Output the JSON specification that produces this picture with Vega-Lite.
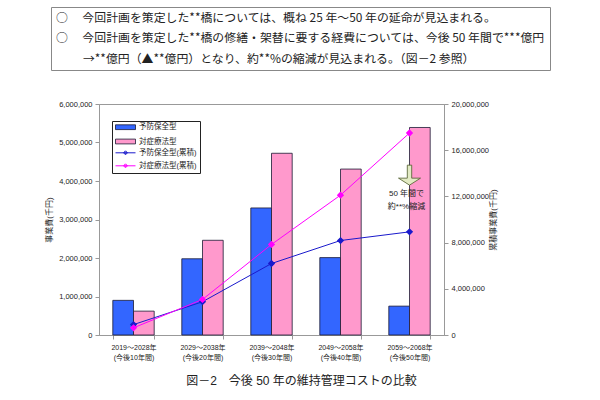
{
  "$schema": "https://vega.github.io/schema/vega-lite/v6.json",
  "autosize": {"type": "none"},
  "padding": {"left": 99, "top": 104, "right": 156, "bottom": 65},
  "width": 345,
  "height": 231,
  "background": "white",
  "config": {
    "font": "Liberation Sans, Noto Sans CJK JP",
    "view": {"stroke": "#999", "strokeWidth": 1}
  },
  "datasets": {
    "notes": [
      {"note": "○　 今回計画を策定した**橋については、概ね 25 年～50 年の延命が見込まれる。"},
      {"note": "○　 今回計画を策定した**橋の修繕・架替に要する経費については、今後 50 年間で***億円"},
      {"note": "⠀⠀⠀→**億円（▲**億円）となり、約**%の縮減が見込まれる。（図－2 参照）"}
    ],
    "bars": [
      {"period": "2019～2028年|(今後10年間)", "series": "予防保全型", "cost": 900000},
      {"period": "2019～2028年|(今後10年間)", "series": "対症療法型", "cost": 620000},
      {"period": "2029～2038年|(今後20年間)", "series": "予防保全型", "cost": 1980000},
      {"period": "2029～2038年|(今後20年間)", "series": "対症療法型", "cost": 2460000},
      {"period": "2039～2048年|(今後30年間)", "series": "予防保全型", "cost": 3300000},
      {"period": "2039～2048年|(今後30年間)", "series": "対症療法型", "cost": 4720000},
      {"period": "2049～2058年|(今後40年間)", "series": "予防保全型", "cost": 2010000},
      {"period": "2049～2058年|(今後40年間)", "series": "対症療法型", "cost": 4310000},
      {"period": "2059～2068年|(今後50年間)", "series": "予防保全型", "cost": 750000},
      {"period": "2059～2068年|(今後50年間)", "series": "対症療法型", "cost": 5390000}
    ],
    "lines": [
      {"period": "2019～2028年|(今後10年間)", "series": "予防保全型(累積)", "cum": 900000},
      {"period": "2029～2038年|(今後20年間)", "series": "予防保全型(累積)", "cum": 2880000},
      {"period": "2039～2048年|(今後30年間)", "series": "予防保全型(累積)", "cum": 6190000},
      {"period": "2049～2058年|(今後40年間)", "series": "予防保全型(累積)", "cum": 8180000},
      {"period": "2059～2068年|(今後50年間)", "series": "予防保全型(累積)", "cum": 8930000},
      {"period": "2019～2028年|(今後10年間)", "series": "対症療法型(累積)", "cum": 620000},
      {"period": "2029～2038年|(今後20年間)", "series": "対症療法型(累積)", "cum": 3080000},
      {"period": "2039～2048年|(今後30年間)", "series": "対症療法型(累積)", "cum": 7840000},
      {"period": "2049～2058年|(今後40年間)", "series": "対症療法型(累積)", "cum": 12110000},
      {"period": "2059～2068年|(今後50年間)", "series": "対症療法型(累積)", "cum": 17490000}
    ]
  },
  "title": {
    "text": "図－2　今後 50 年の維持管理コストの比較",
    "orient": "bottom",
    "anchor": "middle",
    "frame": "group",
    "fontSize": 12,
    "fontWeight": "normal",
    "color": "#222",
    "offset": 16,
    "dx": 30
  },
  "layer": [
    {
      "data": {"name": "bars"},
      "mark": {"type": "bar", "stroke": "#1a1a33", "strokeWidth": 0.8},
      "encoding": {
        "x": {"field": "period", "type": "nominal", "sort": null,
              "scale": {"paddingInner": 0.4, "paddingOuter": 0.2},
              "axis": {"title": null, "labelAngle": 0, "labelExpr": "split(datum.label, '|')", "labelFontSize": 7, "labelLineHeight": 10, "labelColor": "#222", "labelPadding": 4, "tickBand": "extent", "tickSize": 4, "tickColor": "#999", "domainColor": "#999"}},
        "xOffset": {"field": "series", "type": "nominal", "scale": {"domain": ["予防保全型", "対症療法型"]}},
        "y": {"field": "cost", "type": "quantitative",
              "scale": {"domain": [0, 6000000], "nice": false},
              "axis": {"title": "事業費(千円)", "orient": "left", "values": [0, 1000000, 2000000, 3000000, 4000000, 5000000, 6000000], "format": ",d", "grid": false, "labelFontSize": 7.5, "labelColor": "#222", "tickSize": 4, "tickColor": "#999", "domainColor": "#999", "titleFontSize": 8, "titleFontWeight": "normal", "titleColor": "#222", "titlePadding": 5, "labelPadding": 3}},
        "fill": {"field": "series", "type": "nominal",
                 "scale": {"domain": ["予防保全型", "対症療法型"], "range": ["#3366ff", "#ff99cc"]},
                 "legend": {
                   "title": null, "orient": "none", "legendX": 13, "legendY": 15.7,
                   "padding": 3, "symbolType": "M-1,-0.6H4V0.6H-1Z", "symbolSize": 64,
                   "symbolStrokeColor": "#1a1a33", "symbolStrokeWidth": 0.8, "symbolOpacity": 1,
                   "labelFontSize": 7.5, "labelColor": "#222", "labelOffset": 15, "rowPadding": 5.3
                 }}
      }
    },
    {
      "layer": [
        {
          "data": {"name": "lines"},
          "mark": {"type": "line", "strokeWidth": 1, "point": {"filled": false, "shape": "diamond", "size": 14, "strokeWidth": 2.5}},
          "encoding": {
            "x": {"field": "period", "type": "nominal", "sort": null},
            "y": {"field": "cum", "type": "quantitative",
                  "scale": {"domain": [0, 20000000], "nice": false},
                  "axis": {"title": "累積事業費(千円)", "orient": "right", "values": [0, 2000000, 4000000, 6000000, 8000000, 10000000, 12000000, 14000000, 16000000, 18000000, 20000000], "format": ",d", "grid": false, "labelFontSize": 7.5, "labelColor": "#222", "tickSize": 4, "tickColor": "#999", "domainColor": "#999", "titleFontSize": 8, "titleFontWeight": "normal", "titleColor": "#222", "titleAngle": 270, "titlePadding": 9, "labelPadding": 3}},
            "stroke": {"field": "series", "type": "nominal",
                       "scale": {"domain": ["予防保全型(累積)", "対症療法型(累積)"], "range": ["#1a1acc", "#ff00ff"]},
                       "legend": {
                         "title": "　", "titleFontSize": 20, "titlePadding": 4.3, "titleColor": "transparent",
                         "orient": "none", "legendX": 13, "legendY": 17,
                         "strokeColor": "#222", "padding": 3,
                         "symbolType": "M-1,0H4M1,0L1.5,-0.5L2,0L1.5,0.5ZM1.25,0L1.5,-0.25L1.75,0L1.5,0.25Z", "symbolSize": 64,
                         "symbolStrokeWidth": 1, "symbolOpacity": 1,
                         "labelFontSize": 7.5, "labelColor": "#222", "labelOffset": 15, "rowPadding": 4
                       }}
          }
        },
        {
          "data": {"values": [{}]},
          "mark": {"type": "point", "shape": "M-0.22,-1H0.22V0.3H1.1L0,1L-1.1,0.3H-0.22Z", "size": 400, "filled": true, "fill": "#e2eac4", "stroke": "#4d5a2a", "strokeWidth": 0.8, "opacity": 1, "dx": -2},
          "encoding": {
            "x": {"datum": "2059～2068年|(今後50年間)", "type": "nominal"},
            "y": {"datum": 13840000, "type": "quantitative"}
          }
        },
        {
          "data": {"values": [{}]},
          "mark": {"type": "text", "text": ["50 年間で", "約**%縮減"], "fontSize": 8, "lineHeight": 12.5, "color": "#222", "align": "center", "baseline": "top", "dx": -3},
          "encoding": {
            "x": {"datum": "2059～2068年|(今後50年間)", "type": "nominal"},
            "y": {"datum": 12550000, "type": "quantitative"}
          }
        }
      ]
    },
    {
      "data": {"name": "notes"},
      "mark": {"type": "point", "opacity": 0},
      "encoding": {
        "shape": {"field": "note", "type": "nominal", "sort": null,
                  "legend": {
                    "title": null, "orient": "none", "legendX": -48, "legendY": -97,
                    "strokeColor": "#888", "fillColor": "white", "padding": 5,
                    "symbolSize": 0, "symbolOpacity": 0, "symbolStrokeWidth": 0,
                    "labelFont": "Noto Sans CJK JP", "labelFontSize": 11.9, "labelColor": "#222", "labelLimit": 1000, "labelOffset": -12, "rowPadding": 7.3
                  }}
      }
    }
  ],
  "resolve": {"scale": {"y": "independent"}}
}
